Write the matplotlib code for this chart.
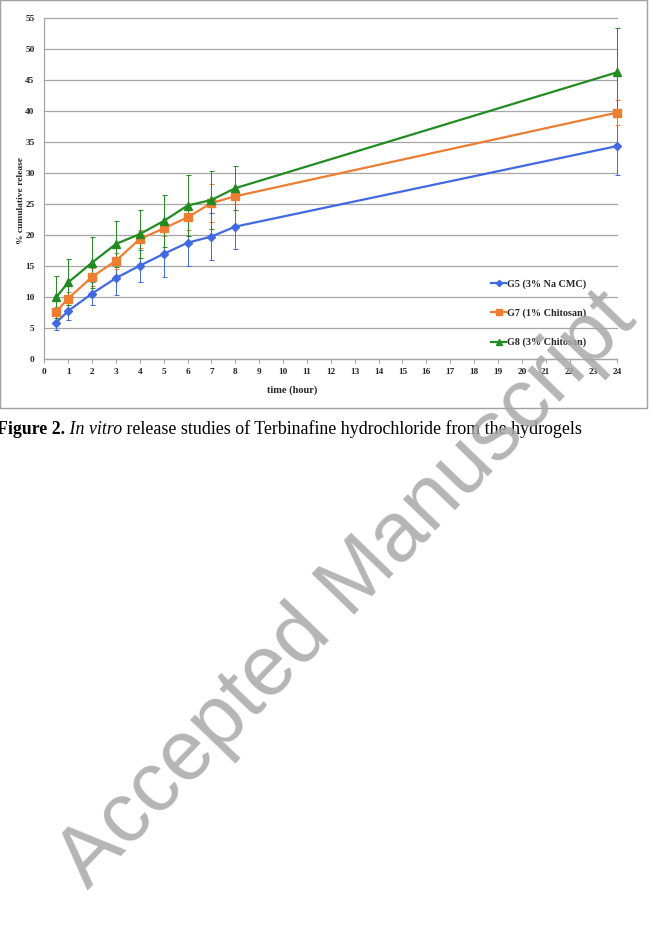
import numpy as np
import matplotlib.pyplot as plt
from matplotlib.patches import Rectangle

# data
time_h = [0.5, 1, 2, 3, 4, 5, 6, 7, 8, 24]
g5 = [5.9, 7.8, 10.6, 13.1, 15.1, 17.0, 18.8, 19.8, 21.4, 34.4]
g5_err = [1.1, 1.4, 1.9, 2.7, 2.6, 3.7, 3.7, 3.8, 3.6, 4.7]
g7 = [7.7, 9.8, 13.3, 15.9, 19.4, 21.1, 22.9, 25.2, 26.3, 39.8]
g7_err = [0.7, 1.0, 1.5, 1.3, 1.5, 1.2, 2.0, 3.0, 1.3, 2.0]
g8 = [10.0, 12.4, 15.6, 18.6, 20.2, 22.3, 24.8, 25.7, 27.6, 46.3]
g8_err = [3.4, 3.7, 4.1, 3.7, 3.9, 4.2, 4.9, 4.7, 3.6, 7.1]
labels = ['G5 (3% Na CMC)', 'G7 (1% Chitosan)', 'G8 (3% Chitosan)']

W, H = 652, 952
fig = plt.figure(figsize=(W / 100, H / 100), dpi=100)
fig.patch.set_facecolor('white')

# axes placed by pixel box of the plot area
x0, x1, y0, y1 = 44.3, 617.3, 18.3, 359.3
ax = fig.add_axes([x0 / W, 1 - y1 / H, (x1 - x0) / W, (y1 - y0) / H])

serif = 'Liberation Serif'
grid_c = '#a6a6a6'
colors = ['#4169E1', '#ED7D31', '#228B22']
markers = ['D', 's', '^']
msizes = [4.2, 5.2, 5.2]

series = [(g5, g5_err), (g7, g7_err), (g8, g8_err)]
handles = []
for (y, e), c, m, ms, lab in zip(series, colors, markers, msizes, labels):
    eb = ax.errorbar(time_h, y, yerr=e, fmt='none', ecolor=c, elinewidth=0.7,
                     capsize=1.8, capthick=0.7, zorder=2)
    for art in eb.get_children():
        art.set_clip_on(False)
    h, = ax.plot(time_h, y, color=c, lw=1.6, marker=m, ms=ms, mec=c,
                 mfc=c, label=lab, zorder=3, clip_on=False)
    handles.append(h)

ax.set_xlim(0, 24)
ax.set_ylim(0, 55)
ax.set_xticks(np.arange(0, 25, 1))
ax.set_yticks(np.arange(0, 56, 5))
ax.yaxis.grid(True, color=grid_c, lw=0.9)
ax.set_axisbelow(True)
for g in ax.yaxis.get_gridlines():
    g.set_clip_on(False)
for s in ['top', 'right']:
    ax.spines[s].set_visible(False)
for s in ['left', 'bottom']:
    ax.spines[s].set_color(grid_c)
    ax.spines[s].set_linewidth(0.9)
ax.tick_params(axis='x', length=3, width=0.8, color=grid_c, pad=3)
ax.tick_params(axis='y', length=0, pad=7)
for t in ax.get_xticklabels() + ax.get_yticklabels():
    t.set_fontfamily(serif)
    t.set_fontweight('bold')
    t.set_fontsize(6.7)
    t.set_color('#262626')

fig.text(21 / W, 1 - 200 / H, '% cumulative release', rotation=90,
         ha='center', va='center', family=serif, weight='bold',
         fontsize=6.8, color='#262626')
fig.text(292 / W, 1 - 390 / H, 'time (hour)', ha='center', va='center',
         family=serif, weight='bold', fontsize=7.5, color='#262626')

leg = ax.legend(handles=handles, loc='upper left',
                bbox_to_anchor=(491 / W, 1 - 279 / H),
                bbox_transform=fig.transFigure, frameon=False,
                prop={'family': serif, 'weight': 'bold', 'size': 7.3},
                handlelength=1.5, handletextpad=0.1, labelspacing=1.95,
                borderpad=0, borderaxespad=0, markerscale=0.75)
for t in leg.get_texts():
    t.set_color('#262626')

# chart frame
fig.add_artist(Rectangle((0, 1 - 408 / H), 647 / W, 408 / H,
                         transform=fig.transFigure, fill=False,
                         edgecolor='#a0a0a0', lw=1.0))

# caption
cap_y = 1 - 434 / H
fs_cap = 12.9
t1 = fig.text(-3 / W, cap_y, 'Figure 2.', family=serif, weight='bold',
              fontsize=fs_cap, va='baseline')
t2 = ax.annotate(' In vitro', xy=(1, 0), xycoords=t1, va='bottom',
                 family=serif, style='italic', fontsize=fs_cap,
                 annotation_clip=False)
t3 = ax.annotate(' release studies of Terbinafine hydrochloride from the hydrogels',
                 xy=(1, 0), xycoords=t2, va='bottom', family=serif,
                 fontsize=fs_cap, annotation_clip=False)

# watermark
fig.text(347 / W, 1 - 590 / H, 'Accepted Manuscript', rotation=46,
         rotation_mode='anchor', ha='center', va='center',
         family='Liberation Sans', fontsize=61, color='#a8a8a8', alpha=0.85,
         zorder=10)

fig.savefig('out.png', dpi=100)
